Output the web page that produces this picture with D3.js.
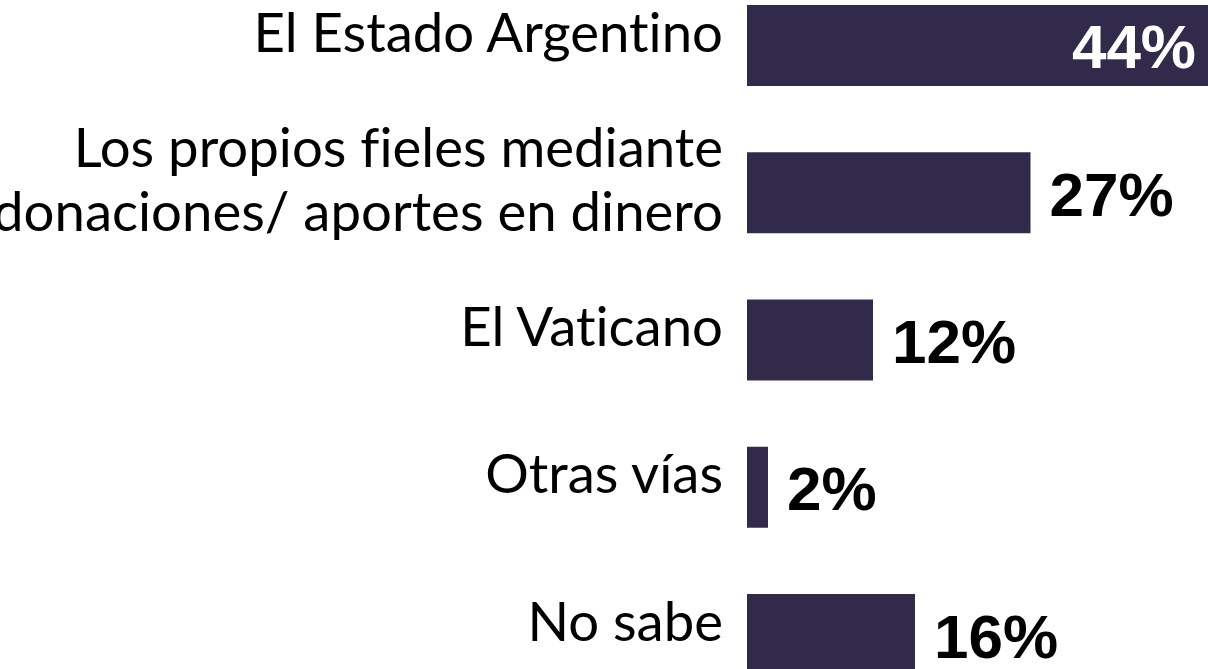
<!DOCTYPE html>
<html lang="es">

<head>
    <meta charset="UTF-8">
    <script src="https://d3js.org/d3.v7.min.js"></script>
    <title>Financiamiento de la Iglesia</title>
</head>

<body style="margin: 0; background: #fff; overflow: hidden;">
</body>
<script>
    // categorias (cada linea del rotulo por separado) y porcentajes
    const categories = [
        ["El Estado Argentino"],
        ["Los propios fieles mediante", "donaciones/ aportes en dinero"],
        ["El Vaticano"],
        ["Otras vías"],
        ["No sabe"]
    ];
    const values = [44, 27, 12, 2, 16];

    const width = 1208;
    const height = 669;
    const barColor = "#322a4b";

    const keys = categories.map(c => c.join(" "));

    const x = d3.scaleLinear()
        .domain([0, 44])
        .range([747, 1209]);

    const y = d3.scaleBand()
        .domain(keys)
        .range([5, 675])
        .paddingInner(0.45)
        .paddingOuter(0);

    const data = keys.map((k, i) => ({ key: k, lines: categories[i], value: values[i] }));

    const svg = d3.select("body")
        .append("svg")
        .attr("width", width)
        .attr("height", height)
        .attr("viewBox", [0, 0, width, height]);

    svg.append("g")
        .selectAll("rect")
        .data(data)
        .join("rect")
        .attr("x", x(0))
        .attr("y", d => y(d.key))
        .attr("width", d => x(d.value) - x(0))
        .attr("height", y.bandwidth())
        .attr("fill", barColor);

    // rotulos de categoria, alineados a la derecha
    const lineGap = 64;
    svg.append("g")
        .attr("font-family", "Lato, 'Open Sans', sans-serif")
        .attr("font-size", 54.5)
        .attr("fill", "#000")
        .attr("text-anchor", "end")
        .style("font-variant-ligatures", "none")
        .selectAll("text")
        .data(data)
        .join("text")
        .attr("x", 723)
        .attr("y", d => y(d.key) + y.bandwidth() / 2 + 6 - (d.lines.length - 1) * lineGap / 2)
        .selectAll("tspan")
        .data(d => d.lines)
        .join("tspan")
        .attr("x", 723)
        .attr("dy", (d, i) => i === 0 ? 0 : lineGap)
        .text(d => d);

    // etiquetas de valor; la barra mas larga lleva el numero adentro
    const maxVal = d3.max(values);
    svg.append("g")
        .attr("font-family", "'Liberation Sans', Arial, sans-serif")
        .attr("font-weight", "bold")
        .attr("font-size", 62)
        .selectAll("text")
        .data(data)
        .join("text")
        .attr("x", d => d.value === maxVal ? x(d.value) - 13 : x(d.value) + 19)
        .attr("y", d => y(d.key) + y.bandwidth() / 2 + 23)
        .attr("text-anchor", d => d.value === maxVal ? "end" : "start")
        .attr("fill", d => d.value === maxVal ? "#fff" : "#000")
        .text(d => d.value + "%");
</script>

</html>
